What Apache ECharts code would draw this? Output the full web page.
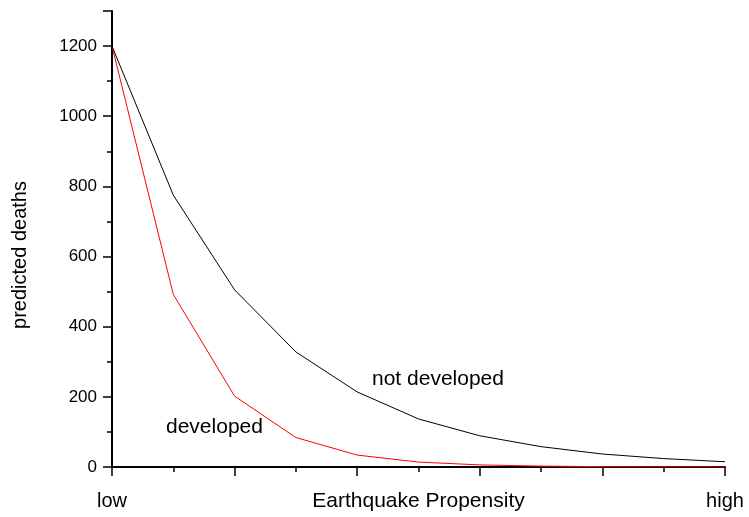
<!DOCTYPE html>
<html><head><meta charset="utf-8">
<script src="https://cdn.jsdelivr.net/npm/echarts@6/dist/echarts.min.js"></script>
<style>html,body{margin:0;padding:0;background:#fff}#c{width:749px;height:517px}</style>
</head><body><div id="c"></div>
<script>
const xPositions = [0,1,2,3,4,5,6,7,8,9,10];
const xTickLabels = {0:'low', 10:'high'};
const notDeveloped = [1200, 775, 505, 328, 214, 137, 89, 58, 37, 24, 15];
const developed = [1200, 492, 202, 84, 34, 14, 6, 2.5, 1, 0.5, 0.2];
const annotations = [
  {text:'not developed', left:372, y:379},
  {text:'developed', left:166, y:427}
];
const FONT = '"Liberation Sans", Arial, sans-serif';
const chart = echarts.init(document.getElementById('c'));
chart.setOption({
  animation:false,
  backgroundColor:'#fff',
  grid:{left:112, right:24, top:11, bottom:50, containLabel:false, outerBoundsMode:'none'},
  xAxis:{
    type:'value', min:0, max:10, interval:2,
    name:'Earthquake Propensity', nameLocation:'middle', nameGap:24, nameMoveOverlap:false,
    nameTextStyle:{fontFamily:FONT, fontSize:21, color:'#000', verticalAlign:'top'},
    axisLine:{lineStyle:{color:'#000', width:2}},
    axisTick:{show:true, length:9, lineStyle:{color:'#000', width:1.5}},
    minorTick:{show:true, splitNumber:2, length:5, lineStyle:{color:'#000', width:1.5}},
    splitLine:{show:false},
    axisLabel:{margin:24, fontFamily:FONT, fontSize:20, color:'#000',
      formatter:v=>xTickLabels[v]||''}
  },
  yAxis:{
    type:'value', min:0, max:1300, interval:200,
    name:'predicted deaths', nameLocation:'middle', nameGap:82, nameRotate:90, nameMoveOverlap:false,
    nameTextStyle:{fontFamily:FONT, fontSize:20, color:'#000', padding:[0,32,0,0]},
    axisLine:{show:true, lineStyle:{color:'#000', width:2}},
    axisTick:{show:true, length:9, lineStyle:{color:'#000', width:1.5}},
    minorTick:{show:true, splitNumber:2, length:5, lineStyle:{color:'#000', width:1.5}},
    splitLine:{show:false},
    axisLabel:{margin:15, fontFamily:FONT, fontSize:17, color:'#000',
      formatter:v=> v%200===0 ? String(v) : ''}
  },
  series:[
    {type:'line', data:xPositions.map((x,i)=>[x, notDeveloped[i]]), showSymbol:false,
      lineStyle:{color:'#000', width:1}, z:3},
    {type:'line', data:xPositions.map((x,i)=>[x, developed[i]]), showSymbol:false,
      lineStyle:{color:'#ff0000', width:1}, z:2}
  ],
  graphic: annotations.map(a=>({type:'text', x:a.left, y:a.y,
    style:{text:a.text, font:'21px '+FONT, fill:'#000', verticalAlign:'middle'}}))
});
</script></body></html>
